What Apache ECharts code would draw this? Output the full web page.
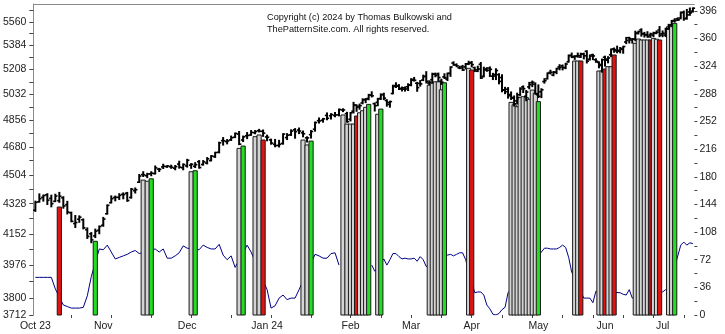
<!DOCTYPE html>
<html><head><meta charset="utf-8">
<script src="https://cdn.jsdelivr.net/npm/echarts@6/dist/echarts.min.js"></script>
<style>html,body{margin:0;padding:0;background:#fff}#c{width:725px;height:334px}</style>
</head><body><div id="c"></div>
<script>
const dates = ['2023-10-09','2023-10-10','2023-10-11','2023-10-12','2023-10-13','2023-10-16','2023-10-17','2023-10-18','2023-10-19','2023-10-20','2023-10-23','2023-10-24','2023-10-25','2023-10-26','2023-10-27','2023-10-30','2023-10-31',
'2023-11-01','2023-11-02','2023-11-03','2023-11-06','2023-11-07','2023-11-08','2023-11-09','2023-11-10','2023-11-13','2023-11-14','2023-11-15','2023-11-16','2023-11-17','2023-11-20','2023-11-21','2023-11-22','2023-11-24','2023-11-27','2023-11-28','2023-11-29','2023-11-30',
'2023-12-01','2023-12-04','2023-12-05','2023-12-06','2023-12-07','2023-12-08','2023-12-11','2023-12-12','2023-12-13','2023-12-14','2023-12-15','2023-12-18','2023-12-19','2023-12-20','2023-12-21','2023-12-22','2023-12-26','2023-12-27','2023-12-28','2023-12-29',
'2024-01-02','2024-01-03','2024-01-04','2024-01-05','2024-01-08','2024-01-09','2024-01-10','2024-01-11','2024-01-12','2024-01-16','2024-01-17','2024-01-18','2024-01-19','2024-01-22','2024-01-23','2024-01-24','2024-01-25','2024-01-26','2024-01-29','2024-01-30','2024-01-31',
'2024-02-01','2024-02-02','2024-02-05','2024-02-06','2024-02-07','2024-02-08','2024-02-09','2024-02-12','2024-02-13','2024-02-14','2024-02-15','2024-02-16','2024-02-20','2024-02-21','2024-02-22','2024-02-23','2024-02-26','2024-02-27','2024-02-28','2024-02-29',
'2024-03-01','2024-03-04','2024-03-05','2024-03-06','2024-03-07','2024-03-08','2024-03-11','2024-03-12','2024-03-13','2024-03-14','2024-03-15','2024-03-18','2024-03-19','2024-03-20','2024-03-21','2024-03-22','2024-03-25','2024-03-26','2024-03-27','2024-03-28',
'2024-04-01','2024-04-02','2024-04-03','2024-04-04','2024-04-05','2024-04-08','2024-04-09','2024-04-10','2024-04-11','2024-04-12','2024-04-15','2024-04-16','2024-04-17','2024-04-18','2024-04-19','2024-04-22','2024-04-23','2024-04-24','2024-04-25','2024-04-26','2024-04-29','2024-04-30',
'2024-05-01','2024-05-02','2024-05-03','2024-05-06','2024-05-07','2024-05-08','2024-05-09','2024-05-10','2024-05-13','2024-05-14','2024-05-15','2024-05-16','2024-05-17','2024-05-20','2024-05-21','2024-05-22','2024-05-23','2024-05-24','2024-05-28','2024-05-29','2024-05-30','2024-05-31',
'2024-06-03','2024-06-04','2024-06-05','2024-06-06','2024-06-07','2024-06-10','2024-06-11','2024-06-12','2024-06-13','2024-06-14','2024-06-17','2024-06-18','2024-06-20','2024-06-21','2024-06-24','2024-06-25','2024-06-26','2024-06-27','2024-06-28',
'2024-07-01','2024-07-02','2024-07-03','2024-07-05','2024-07-08','2024-07-09','2024-07-10','2024-07-11','2024-07-12','2024-07-15','2024-07-16'];

const openV = [4289,4339,4366,4381,4360,4342,4346,4363,4322,4274,4211,4236,4233,4175,4152,4140,4172,
4201,4268,4334,4365,4366,4384,4391,4365,4406,4458,4505,4498,4510,4511,4539,4553,4555,4554,4545,4571,4548,
4559,4564,4557,4586,4568,4577,4593,4618,4646,4721,4715,4726,4743,4764,4725,4753,4758,4773,4786,4782,
4745,4726,4697,4690,4703,4741,4759,4792,4791,4772,4739,4760,4796,4853,4856,4888,4886,4888,4892,4925,4900,
4862,4917,4957,4951,4973,4996,5004,5027,4968,4977,5004,5031,4990,4963,5038,5093,5093,5074,5068,5085,
5098,5131,5110,5109,5132,5159,5112,5135,5174,5176,5124,5155,5139,5181,5254,5242,5220,5228,5226,5248,
5258,5221,5195,5245,5159,5212,5218,5160,5172,5171,5150,5064,5068,5031,5006,4987,5029,5084,5019,5084,5114,5103,
5029,5050,5122,5142,5187,5168,5189,5226,5234,5221,5263,5310,5303,5306,5298,5319,5340,5282,5315,5278,5259,5244,
5297,5275,5315,5357,5343,5341,5354,5409,5441,5424,5431,5477,5500,5468,5460,5461,5461,5474,5499,
5471,5461,5507,5537,5572,5584,5591,5635,5590,5638,5644];
const highV = [4341,4385,4378,4386,4377,4383,4394,4368,4340,4276,4256,4254,4236,4184,4157,4177,4195,
4245,4319,4373,4372,4386,4391,4394,4418,4421,4504,4521,4511,4521,4557,4542,4568,4560,4562,4560,4587,4570,
4599,4572,4578,4591,4591,4610,4623,4644,4709,4739,4726,4749,4769,4779,4749,4772,4785,4785,4793,4789,
4755,4729,4727,4721,4764,4765,4790,4798,4802,4782,4744,4785,4842,4869,4866,4903,4898,4906,4929,4931,4907,
4906,4975,4958,4963,4999,5001,5030,5048,4970,5002,5033,5038,4993,4983,5094,5111,5098,5081,5082,5104,
5140,5149,5114,5127,5165,5190,5125,5179,5180,5180,5136,5175,5180,5225,5261,5246,5229,5235,5249,5265,
5263,5222,5229,5256,5222,5219,5224,5178,5211,5175,5168,5079,5077,5047,5019,5038,5076,5089,5057,5114,5123,5110,
5096,5069,5140,5181,5200,5191,5214,5240,5238,5250,5311,5325,5305,5325,5324,5324,5342,5311,5316,5283,5261,5281,
5302,5298,5355,5362,5376,5366,5375,5441,5442,5432,5488,5488,5506,5479,5484,5473,5480,5490,5523,
5490,5510,5540,5570,5583,5590,5635,5642,5655,5666,5667];
const lowV = [4284,4339,4345,4325,4311,4342,4338,4303,4269,4223,4190,4220,4182,4127,4103,4132,4154,
4197,4268,4334,4347,4355,4359,4344,4363,4394,4458,4495,4488,4500,4511,4526,4545,4552,4546,4537,4547,4537,
4554,4546,4551,4547,4566,4574,4593,4615,4644,4694,4702,4724,4743,4697,4717,4736,4758,4768,4780,4751,
4722,4700,4683,4682,4700,4730,4757,4739,4769,4748,4714,4740,4785,4839,4845,4861,4866,4881,4887,4916,4845,
4853,4907,4918,4932,4969,4977,4997,5016,4920,4956,4999,4998,4953,4946,5038,5082,5068,5058,5057,5061,
5094,5127,5056,5092,5131,5114,5101,5114,5158,5126,5104,5146,5131,5161,5240,5230,5216,5203,5214,5245,
5229,5195,5195,5146,5157,5197,5160,5138,5138,5108,5052,5039,5008,4999,4953,4969,5027,5047,4990,5073,5088,5035,
5013,5012,5113,5142,5178,5165,5180,5208,5207,5216,5263,5296,5283,5299,5297,5287,5257,5278,5281,5262,5222,5191,
5234,5258,5304,5335,5331,5331,5328,5399,5404,5403,5421,5471,5455,5448,5447,5446,5451,5474,5451,
5451,5452,5507,5531,5562,5574,5587,5576,5584,5614,5639];
const closeV = [4336,4358,4377,4349,4328,4374,4373,4314,4278,4224,4217,4248,4186,4137,4117,4167,4194,
4237,4318,4358,4366,4378,4383,4347,4415,4412,4496,4503,4509,4514,4547,4538,4557,4559,4551,4555,4551,4568,
4595,4569,4567,4549,4585,4604,4622,4644,4707,4720,4719,4740,4768,4698,4746,4755,4775,4781,4783,4770,
4743,4705,4689,4697,4764,4757,4783,4780,4784,4766,4739,4781,4840,4851,4865,4869,4894,4891,4928,4925,4846,
4906,4959,4943,4954,4995,4998,5027,5022,4954,5001,5030,5006,4976,4982,5087,5089,5070,5078,5070,5096,
5137,5131,5079,5105,5157,5124,5118,5175,5165,5150,5117,5149,5179,5225,5241,5234,5218,5204,5248,5254,
5243,5205,5211,5147,5204,5202,5209,5161,5200,5123,5061,5051,5022,5011,4967,5010,5070,5072,5048,5100,5116,5036,
5018,5064,5128,5181,5187,5188,5214,5223,5221,5247,5308,5297,5303,5308,5321,5307,5268,5305,5306,5267,5236,5278,
5283,5291,5354,5352,5347,5361,5375,5421,5434,5431,5473,5487,5473,5465,5448,5469,5478,5483,5460,
5475,5509,5537,5567,5572,5577,5633,5585,5615,5631,5667];

// indicator line (right axis); null where it is covered by the vertical bars
const indVals = [49,49,49,49,49,34,null,13,11,9,9,9,10,25,50,null,86,
85,91,82,73,75,77,79,82,84,80,null,null,null,86,82,86,74,74,77,81,90,
87,null,null,85,91,88,86,86,92,78,72,77,62,null,null,91,82,null,null,null,
33,9,12,22,26,20,22,22,33,null,null,null,79,77,74,74,80,81,65,null,null,
null,null,null,null,null,null,null,65,57,null,null,73,65,72,80,80,76,73,74,73,
73,74,70,76,72,63,null,null,null,null,null,null,78,79,77,79,81,81,72,null,
null,29,30,30,26,13,8,1,0,2,7,10,29,null,null,null,null,null,null,null,null,null,
null,82,87,87,86,86,86,88,91,88,75,56,null,null,null,22,22,22,16,31,null,null,
null,null,null,null,null,29,27,26,33,22,null,null,null,null,null,null,null,null,null,
30,33,34,null,null,null,91,95,91,94,93];

// vertical signal bars: date, top price, kind (g = grey, r = red, d = dark red, G = green)
const markDates = ['2023-10-17','2023-10-30','2023-11-15','2023-11-16','2023-11-17','2023-12-04','2023-12-05','2023-12-20','2023-12-21','2023-12-27','2023-12-28','2023-12-29',
'2024-01-16','2024-01-17','2024-01-18','2024-01-30','2024-01-31',
'2024-02-01','2024-02-02','2024-02-05','2024-02-06','2024-02-07','2024-02-08','2024-02-09','2024-02-14','2024-02-15',
'2024-03-11','2024-03-12','2024-03-13','2024-03-14','2024-03-15','2024-03-18','2024-03-28','2024-04-01',
'2024-04-18','2024-04-19','2024-04-22','2024-04-23','2024-04-24','2024-04-25','2024-04-26','2024-04-29','2024-04-30','2024-05-01',
'2024-05-17','2024-05-20','2024-05-21','2024-05-30','2024-05-31','2024-06-03','2024-06-04','2024-06-05','2024-06-06',
'2024-06-17','2024-06-18','2024-06-20','2024-06-21','2024-06-24','2024-06-25','2024-06-26','2024-06-27','2024-06-28',
'2024-07-03','2024-07-05','2024-07-08'];
const markTops = [4308,4109,4471,4464,4479,4523,4529,4671,4686,4747,4758,4725,
4725,4693,4718,4891,4830,
4830,4830,4884,4906,4920,4943,4963,4896,4931,
5097,5110,5120,5120,5064,5113,5216,5204,
4977,4960,4947,5012,5016,5010,4998,5062,5040,4982,
5269,5269,5269,5197,5197,5211,5228,5228,5313,
5399,5431,5424,5424,5424,5424,5436,5430,5424,
5524,5524,5550];
const markKinds = ['r','G','g','g','G','g','G','g','G','g','g','r',
'g','g','G','g','g',
'g','g','r','g','g','g','G','g','G',
'g','g','g','g','g','G','g','r',
'g','g','g','g','g','g','g','g','g','G',
'g','g','r','g','g','r','g','g','r',
'g','g','g','g','g','d','g','g','r',
'g','g','G'];

const priceTicks = [3712,3800,3888,3976,4064,4152,4240,4328,4416,4504,4592,4680,4768,4856,4944,5032,5120,5208,5296,5384,5472,5560,5648];
const priceLabels = [3712,3800,3976,4152,4328,4504,4680,4856,5032,5208,5384,5560];
const indTicks = [0,18,36,54,72,90,108,126,144,162,180,198,216,234,252,270,288,306,324,342,360,378,396];
const indLabels = [0,36,72,108,144,180,216,252,288,324,360,396];
const monthLabels = ['Oct 23','Nov','Dec','Jan 24','Feb','Mar','Apr','May','Jun','Jul'];

const PRICE_MIN = 3712, PRICE_MAX = 5700, IND_MAX = 405;
const SPLIT = 79; // first bar of the compressed right-hand section
const FONT = "'Liberation Sans', Arial, sans-serif";

const labelFor = {};
let mi = 0;
dates.forEach((d, i) => { if (i === 0 || d.slice(0, 7) !== dates[i - 1].slice(0, 7)) labelFor[d] = monthLabels[mi++]; });
const markIndex = {};
markDates.forEach((d, k) => { markIndex[d] = k; });
const kindColor = { g: '#d4d4d4', r: '#de1414', d: '#b01218', G: '#22dd22' };
const kindCodes = ['g', 'r', 'd', 'G'];

const segs = [[0, SPLIT], [SPLIT, dates.length]];
const chart = echarts.init(document.getElementById('c'), null, { renderer: 'canvas' });

const xAxes = [], yAxes = [], series = [];
segs.forEach(([a, b], s) => {
  xAxes.push({
    type: 'category', gridIndex: s, data: dates.slice(a, b), boundaryGap: true, position: 'bottom',
    axisLine: { show: false },
    axisTick: { show: true, alignWithLabel: true, length: 3, lineStyle: { color: '#444' },
      interval: (i, v) => dates.indexOf(v) % 10 === 9 },
    axisLabel: { interval: (i, v) => !!labelFor[v], formatter: v => labelFor[v] || '',
      fontSize: 10.5, color: '#222', fontFamily: FONT, margin: 6 },
    splitLine: { show: false }
  });
});
segs.forEach(([a, b], s) => {
  xAxes.push({
    type: 'category', gridIndex: s, data: dates.slice(a, b), position: 'top',
    axisLine: { show: true, lineStyle: { color: '#8a8a8a', width: 1 } },
    axisTick: { show: false }, axisLabel: { show: false }, splitLine: { show: false }
  });
});
// grid 0 axes
yAxes.push({ type: 'log', gridIndex: 0, min: PRICE_MIN, max: PRICE_MAX, show: false });            // 0 price (data)
yAxes.push({ type: 'value', gridIndex: 0, position: 'left', min: Math.log(PRICE_MIN), max: Math.log(PRICE_MAX),
  axisLine: { show: true, lineStyle: { color: '#8a8a8a' } },
  axisTick: { show: true, length: 4, lineStyle: { color: '#444' }, customValues: priceTicks.map(Math.log) },
  axisLabel: { customValues: priceLabels.map(Math.log), formatter: v => String(Math.round(Math.exp(v))),
    fontSize: 10.5, color: '#222', fontFamily: FONT, margin: 7 },
  splitLine: { show: false } });                                                                    // 1 price labels (log positions)
yAxes.push({ type: 'value', gridIndex: 0, min: 0, max: IND_MAX, show: false });                   // 2 indicator
// grid 1 axes
yAxes.push({ type: 'log', gridIndex: 1, min: PRICE_MIN, max: PRICE_MAX, show: false });            // 3 price
yAxes.push({ type: 'value', gridIndex: 1, position: 'right', min: 0, max: IND_MAX,
  axisLine: { show: false },
  axisTick: { show: true, length: 3, lineStyle: { color: '#444' }, customValues: indTicks },
  axisLabel: { customValues: indLabels, fontSize: 10.5, color: '#222', fontFamily: FONT, margin: 5 },
  splitLine: { show: false } });                                                                    // 4 indicator

function markRender(params, api) {
  const x = api.value(0), top = api.value(1), kind = kindCodes[api.value(2)];
  const pt = api.coord([x, top]);
  const pb = api.coord([x, PRICE_MIN]);
  const w = 4.2;
  return { type: 'rect', shape: { x: pt[0] - w / 2, y: pt[1], width: w, height: pb[1] - pt[1] },
    style: { fill: kindColor[kind], stroke: '#1a1a1a', lineWidth: 1 } };
}
function ohlcRender(params, api) {
  const x = api.value(0);
  const pO = api.coord([x, api.value(1)]), pH = api.coord([x, api.value(2)]);
  const pL = api.coord([x, api.value(3)]), pC = api.coord([x, api.value(4)]);
  const t = 2.2;
  return { type: 'group', children: [
    { type: 'line', shape: { x1: pH[0], y1: pH[1] - 0.8, x2: pL[0], y2: pL[1] + 0.8 }, style: { stroke: '#000', lineWidth: 2 } },
    { type: 'line', shape: { x1: pO[0] - t, y1: pO[1], x2: pO[0], y2: pO[1] }, style: { stroke: '#000', lineWidth: 1.6 } },
    { type: 'line', shape: { x1: pC[0], y1: pC[1], x2: pC[0] + t, y2: pC[1] }, style: { stroke: '#000', lineWidth: 1.6 } }
  ] };
}

segs.forEach(([a, b], s) => {
  const priceAx = s === 0 ? 0 : 3, indAx = s === 0 ? 2 : 4;
  series.push({ type: 'line', xAxisIndex: s, yAxisIndex: indAx, data: indVals.slice(a, b),
    symbol: 'none', connectNulls: true, lineStyle: { color: '#000088', width: 1 }, z: 1, silent: true });
  const md = [];
  for (let i = a; i < b; i++) {
    const k = markIndex[dates[i]];
    if (k !== undefined) md.push([i - a, markTops[k], kindCodes.indexOf(markKinds[k])]);
  }
  series.push({ type: 'custom', xAxisIndex: s, yAxisIndex: priceAx, data: md, renderItem: markRender,
    encode: { x: 0, y: 1 }, z: 2, silent: true, clip: false });
  const od = [];
  for (let i = a; i < b; i++) od.push([i - a, openV[i], highV[i], lowV[i], closeV[i]]);
  series.push({ type: 'custom', xAxisIndex: s, yAxisIndex: priceAx, data: od, renderItem: ohlcRender,
    encode: { x: 0, y: [1, 2, 3, 4] }, z: 3, silent: true, clip: false });
});

chart.setOption({
  animation: false,
  backgroundColor: '#ffffff',
  title: { text: 'Copyright (c) 2024 by Thomas Bulkowski and\nThePatternSite.com. All rights reserved.',
    left: 267, top: 11, padding: 0,
    textStyle: { fontSize: 9.2, fontWeight: 'normal', color: '#111', lineHeight: 12.5, fontFamily: FONT } },
  grid: [
    { left: 33, top: 4, width: 316, height: 311 },
    { left: 349, top: 4, width: 345.4, height: 311 }
  ],
  xAxis: xAxes, yAxis: yAxes, series: series
});
</script></body></html>
